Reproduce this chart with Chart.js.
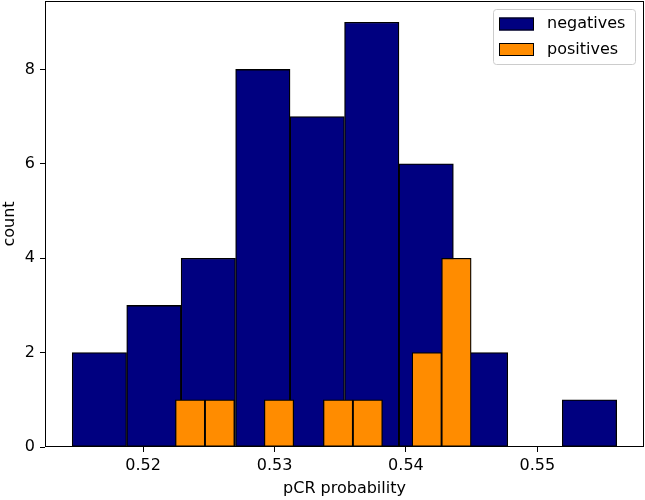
<!DOCTYPE html>
<html>
<head>
<meta charset="utf-8">
<script src="https://cdn.jsdelivr.net/npm/chart.js@4/dist/chart.umd.min.js"></script>
<style>
  html, body { margin: 0; padding: 0; background: #ffffff; }
  #wrap { width: 645px; height: 500px; position: relative; }
</style>
</head>
<body>
<div id="wrap"><canvas id="c" width="645" height="500"></canvas></div>
<script>
// Histogram bins (bin centres in pCR probability, counts per bin)
const negativesBinCenters = [0.51667, 0.52082, 0.52496, 0.52911, 0.53325, 0.53740, 0.54154, 0.54568, 0.54983, 0.55397];
const negativesCounts     = [2, 3, 4, 8, 7, 9, 6, 2, 0, 1];
const positivesBinCenters = [0.52358, 0.52583, 0.52808, 0.53034, 0.53259, 0.53484, 0.53709, 0.53934, 0.54159, 0.54384];
const positivesCounts     = [1, 1, 0, 1, 0, 1, 1, 0, 2, 4];
const seriesLabels = ["negatives", "positives"];
const xTickLabels = [0.52, 0.53, 0.54, 0.55];
const yTickLabels = [0, 2, 4, 6, 8];
const xLimits = [0.51253, 0.55812];
const yLimits = [0, 9.45];

const FONT = "'DejaVu Sans', sans-serif";
const FS = 16;
const colors = ["#000080", "#ff8c00"];

function toPoints(xs, ys) { return xs.map((x, i) => ({ x: x, y: ys[i] })); }

const framePlugin = {
  id: 'frame',
  afterDraw(chart) {
    const { ctx, chartArea: a } = chart;
    ctx.save();
    ctx.strokeStyle = '#000000';
    ctx.lineWidth = 1;
    ctx.strokeRect(Math.round(a.left) + 0.5, Math.round(a.top) + 0.5,
                   Math.round(a.right - a.left) - 1, Math.round(a.bottom - a.top) - 1);
    // legend
    const bw = 142, bh = 55;
    const bx = a.right - 9 - bw, by = a.top + 8;
    ctx.beginPath();
    ctx.roundRect(bx + 0.5, by + 0.5, bw, bh, 3);
    ctx.fillStyle = 'rgba(255,255,255,0.8)';
    ctx.fill();
    ctx.strokeStyle = '#cccccc';
    ctx.stroke();
    ctx.font = FS + 'px ' + FONT;
    ctx.textBaseline = 'middle';
    ctx.textAlign = 'left';
    chart.data.datasets.forEach((ds, i) => {
      const cy = by + 15 + i * 25.5;
      ctx.fillStyle = ds.backgroundColor;
      ctx.fillRect(bx + 6, cy - 6.5, 35, 13);
      ctx.strokeStyle = '#000000';
      ctx.lineWidth = 1;
      ctx.strokeRect(bx + 6.5, cy - 6, 34, 12);
      ctx.fillStyle = '#000000';
      ctx.fillText(ds.label, bx + 54, cy);
    });
    ctx.restore();
  }
};

new Chart(document.getElementById('c'), {
  type: 'bar',
  data: {
    datasets: [
      {
        label: seriesLabels[0],
        data: toPoints(negativesBinCenters, negativesCounts),
        xAxisID: 'x',
        grouped: false,
        order: 2,
        backgroundColor: colors[0],
        borderColor: '#000000',
        borderWidth: c => (c.raw && c.raw.y === 0 ? 0 : 1.3),
        borderSkipped: false,
        barPercentage: 1.0,
        categoryPercentage: 1.0
      },
      {
        label: seriesLabels[1],
        data: toPoints(positivesBinCenters, positivesCounts),
        xAxisID: 'x2',
        grouped: false,
        order: 1,
        backgroundColor: colors[1],
        borderColor: '#000000',
        borderWidth: c => (c.raw && c.raw.y === 0 ? 0 : 1.3),
        borderSkipped: false,
        barPercentage: 1.0,
        categoryPercentage: 1.0
      }
    ]
  },
  options: {
    responsive: false,
    animation: false,
    layout: { padding: { top: 1, right: 1, left: 0, bottom: 0 } },
    plugins: { legend: { display: false }, tooltip: { enabled: false } },
    scales: {
      x: {
        type: 'linear',
        min: xLimits[0], max: xLimits[1],
        offset: false,
        afterBuildTicks: s => { s.ticks = xTickLabels.map(v => ({ value: v })); },
        afterFit: s => { s.height = 53; s.paddingLeft = 0; s.paddingRight = 0; },
        grid: { display: true, drawOnChartArea: false, drawTicks: true, tickLength: 5, color: '#000000', lineWidth: 1, offset: false },
        border: { display: false },
        ticks: { color: '#000000', font: { family: FONT, size: FS }, padding: 4, maxRotation: 0,
                 callback: v => String(+v.toFixed(2)) },
        title: { display: true, text: 'pCR probability', color: '#000000', font: { family: FONT, size: FS }, padding: { top: 0, bottom: 2 } }
      },
      x2: {
        type: 'linear',
        min: xLimits[0], max: xLimits[1],
        offset: false,
        display: false
      },
      y: {
        type: 'linear',
        min: yLimits[0], max: yLimits[1],
        afterBuildTicks: s => { s.ticks = yTickLabels.map(v => ({ value: v })); },
        afterFit: s => { s.width = 45; s.paddingTop = 0; s.paddingBottom = 0; },
        grid: { display: true, drawOnChartArea: false, drawTicks: true, tickLength: 5, color: '#000000', lineWidth: 1 },
        border: { display: false },
        ticks: { color: '#000000', font: { family: FONT, size: FS }, padding: 5 },
        title: { display: true, text: 'count', color: '#000000', font: { family: FONT, size: FS }, padding: { top: 0, bottom: 0 } }
      }
    }
  },
  plugins: [framePlugin]
});
</script>
</body>
</html>
